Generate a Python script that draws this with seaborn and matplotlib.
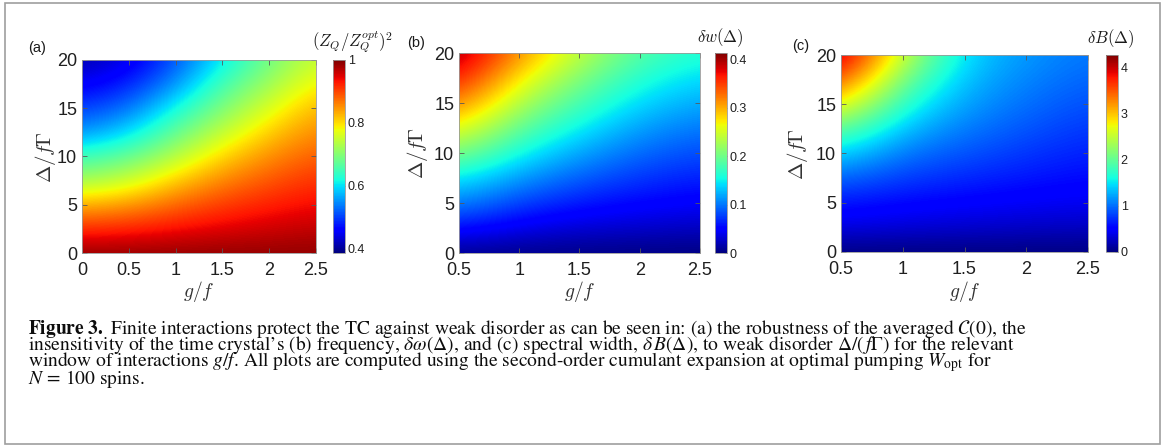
import numpy as np
import matplotlib
matplotlib.use("Agg")
import matplotlib.pyplot as plt
from matplotlib.patches import Rectangle
import seaborn as sns

# ---------------- data ----------------
DELTA = [0, 2.5, 5, 7.5, 10, 12.5, 15, 17.5, 20]
Y_TICKS = [0, 5, 10, 15, 20]
Y_TICKLABELS = ["0", "5", "10", "15", "20"]

# panel (a): (Z_Q / Z_Q^opt)^2, rows = Delta, columns = g/f
A_G = [0, 0.5, 1, 1.5, 2, 2.5]
A_VALUES = [
    [0.990, 0.990, 0.990, 0.990, 0.990, 0.990],
    [0.915, 0.922, 0.936, 0.948, 0.957, 0.965],
    [0.830, 0.845, 0.878, 0.906, 0.925, 0.939],
    [0.720, 0.750, 0.812, 0.858, 0.889, 0.914],
    [0.645, 0.672, 0.734, 0.806, 0.852, 0.885],
    [0.550, 0.593, 0.675, 0.744, 0.811, 0.856],
    [0.500, 0.527, 0.615, 0.695, 0.763, 0.828],
    [0.450, 0.482, 0.548, 0.653, 0.717, 0.789],
    [0.410, 0.439, 0.512, 0.603, 0.684, 0.752],
]
A_XTICKS = [0, 0.5, 1, 1.5, 2, 2.5]
A_XTICKLABELS = ["0", "0.5", "1", "1.5", "2", "2.5"]
A_CBAR_TICKS = [0.4, 0.6, 0.8, 1.0]
A_CBAR_LABELS = ["0.4", "0.6", "0.8", "1"]
A_RANGE = [0.387, 1.0]

# panel (b): delta w(Delta)
B_G = [0.5, 1, 1.5, 2, 2.5]
B_VALUES = [
    [0.005, 0.003, 0.002, 0.001, 0.000],
    [0.058, 0.040, 0.031, 0.028, 0.024],
    [0.107, 0.078, 0.061, 0.052, 0.046],
    [0.150, 0.114, 0.090, 0.073, 0.064],
    [0.210, 0.153, 0.119, 0.094, 0.082],
    [0.268, 0.192, 0.149, 0.116, 0.100],
    [0.325, 0.232, 0.179, 0.139, 0.120],
    [0.372, 0.272, 0.209, 0.162, 0.140],
    [0.405, 0.312, 0.240, 0.185, 0.162],
]
B_XTICKS = [0.5, 1, 1.5, 2, 2.5]
B_XTICKLABELS = ["0.5", "1", "1.5", "2", "2.5"]
B_CBAR_TICKS = [0, 0.1, 0.2, 0.3, 0.4]
B_CBAR_LABELS = ["0", "0.1", "0.2", "0.3", "0.4"]
B_RANGE = [0.0, 0.413]

# panel (c): delta B(Delta)
C_G = [0.5, 1, 1.5, 2, 2.5]
C_VALUES = [
    [0.00, 0.00, 0.00, 0.00, 0.00],
    [0.38, 0.33, 0.30, 0.27, 0.25],
    [0.62, 0.55, 0.50, 0.46, 0.43],
    [0.97, 0.78, 0.70, 0.62, 0.56],
    [1.45, 1.03, 0.88, 0.76, 0.66],
    [2.05, 1.33, 1.05, 0.89, 0.76],
    [2.85, 1.67, 1.20, 1.00, 0.86],
    [3.60, 2.05, 1.32, 1.09, 0.95],
    [4.20, 2.50, 1.42, 1.17, 1.03],
]
C_XTICKS = [0.5, 1, 1.5, 2, 2.5]
C_XTICKLABELS = ["0.5", "1", "1.5", "2", "2.5"]
C_CBAR_TICKS = [0, 1, 2, 3, 4]
C_CBAR_LABELS = ["0", "1", "2", "3", "4"]
C_RANGE = [0.0, 4.28]

PANEL_LETTERS = ["(a)", "(b)", "(c)"]
CBAR_TITLES = [r"$(Z_Q/Z_Q^{opt})^2$", r"$\delta w(\Delta)$", r"$\delta B(\Delta)$"]
X_LABEL = r"$g/f$"
Y_LABEL = r"$\Delta/f\Gamma$"

CAPTION_LINES = [
    "$\\mathbf{Figure\\ 3.}$ Finite interactions protect the TC against weak disorder as can be seen in: (a) the robustness of the averaged $\\mathcal{C}(0)$, the",
    "insensitivity of the time crystal\u2019s (b) frequency, $\\delta\\omega(\\Delta)$, and (c) spectral width, $\\delta\\,B(\\Delta)$, to weak disorder $\\Delta/(\\,f\\Gamma)$ for the relevant",
    "window of interactions $g/f$. All plots are computed using the second-order cumulant expansion at optimal pumping $W_{\\mathrm{opt}}$ for",
    "$N\\,=\\,100$ spins.",
]

# ---------------- style ----------------
sns.set_theme(style="white")
plt.rcParams["font.family"] = ["Liberation Sans", "DejaVu Sans"]
plt.rcParams["mathtext.fontset"] = "cm"

W, H = 1165, 448
fig = plt.figure(figsize=(W / 100, H / 100), dpi=100)
fig.patch.set_facecolor("white")


def rect(l, t, r, b):
    return [l / W, 1 - b / H, (r - l) / W, (b - t) / H]


# layout in pixels: axes (l, t, r, b), colorbar (l, t, r, b), label positions
layout = [
    dict(ax=(82, 60, 316, 253), cb=(333, 60, 345, 253), ylab_x=45, letter=(37, 48), title=(393, 42)),
    dict(ax=(459, 53, 700, 253), cb=(715, 53, 727, 253), ylab_x=418, letter=(416, 43), title=(744, 38)),
    dict(ax=(841, 55, 1088, 252), cb=(1106, 55, 1118, 252), ylab_x=798, letter=(801, 46), title=(1134, 39)),
]
data = [
    (A_G, A_VALUES, A_XTICKS, A_XTICKLABELS, A_CBAR_TICKS, A_CBAR_LABELS, A_RANGE),
    (B_G, B_VALUES, B_XTICKS, B_XTICKLABELS, B_CBAR_TICKS, B_CBAR_LABELS, B_RANGE),
    (C_G, C_VALUES, C_XTICKS, C_XTICKLABELS, C_CBAR_TICKS, C_CBAR_LABELS, C_RANGE),
]

for i, (lay, (g, z, xt, xtl, ct, ctl, rng)) in enumerate(zip(layout, data)):
    l, t, r, b = lay["ax"]
    ax = fig.add_axes(rect(l, t, r, b))
    g_arr = np.array(g, float)
    d_arr = np.array(DELTA, float)
    dg = g_arr[1] - g_arr[0]
    dd = d_arr[1] - d_arr[0]
    img = ax.imshow(np.array(z, float), origin="lower", aspect="auto",
                    extent=[g_arr[0] - dg / 2, g_arr[-1] + dg / 2,
                            d_arr[0] - dd / 2, d_arr[-1] + dd / 2],
                    cmap="jet", vmin=rng[0], vmax=rng[1],
                    interpolation="bicubic", interpolation_stage="data")
    ax.set_xlim(g[0], g[-1])
    ax.set_ylim(DELTA[0], DELTA[-1])
    ax.set_xticks(xt, xtl)
    ax.set_yticks(Y_TICKS, Y_TICKLABELS)
    ax.tick_params(direction="in", top=True, right=True, bottom=True, left=True,
                   length=3.5, width=0.6, color="0.35", labelsize=13,
                   labelcolor="0.12")
    ax.tick_params(axis="x", pad=6.8)
    ax.tick_params(axis="y", pad=3.5)
    for s in ax.spines.values():
        s.set_color("0.6")
        s.set_linewidth(0.6)
    ax.set_xlabel(X_LABEL, fontsize=14, color="0.2")
    ax.xaxis.set_label_coords(0.5, (b - 291) / (b - t))
    ax.xaxis.label.set_va("center")
    ax.set_ylabel(Y_LABEL, fontsize=15, color="0.2")
    ax.yaxis.set_label_coords((lay["ylab_x"] - l) / (r - l), 0.5)
    ax.yaxis.label.set_va("center")

    cl, ctp, cr, cbm = lay["cb"]
    cax = fig.add_axes(rect(cl, ctp, cr, cbm))
    cb = fig.colorbar(img, cax=cax, ticks=ct)
    cb.set_ticklabels(ctl)
    cb.outline.set_edgecolor("0.6")
    cb.outline.set_linewidth(0.6)
    cax.tick_params(direction="in", length=2.5, width=0.5, labelsize=9,
                    pad=2, color="0.3", labelcolor="0.12", right=True)

    lx, ly = lay["letter"]
    fig.text(lx / W, 1 - ly / H, PANEL_LETTERS[i], ha="center", va="center",
             fontsize=10.5, color="0.1")
    tx, ty = lay["title"]
    fig.text(tx / W, 1 - ty / H, CBAR_TITLES[i], ha="right", va="center",
             fontsize=12, color="0.1")

# ---------------- caption (one multi-line text) ----------------
renderer = fig.canvas.get_renderer()
cap_kw = dict(family="STIXGeneral", math_fontfamily="stix", color="0.05")


def measure(s, size):
    """width, ascent above baseline, descent below baseline (pixels)"""
    tt = fig.text(0.5, 0.5, s, fontsize=size, va="baseline", ha="left", **cap_kw)
    bb = tt.get_window_extent(renderer)
    y0 = fig.transFigure.transform((0.5, 0.5))[1]
    tt.remove()
    return bb.width, bb.y1 - y0, y0 - bb.y0


w10 = measure(CAPTION_LINES[1], 10)[0]
cap_size = 10 * 988 / w10

x0 = 28
first_baseline = 334.0
pitch = 16.6
mets = [measure(s, cap_size) for s in CAPTION_LINES]
lp_asc = measure("lp", cap_size)[1]
desc_sum = sum(m[2] for m in mets[:-1])
asc_sum = sum(max(lp_asc, m[1]) for m in mets[1:])
linesp = (3 * pitch - desc_sum) / asc_sum

top_px = first_baseline - mets[0][1]
fig.text(x0 / W, 1 - top_px / H, "\n".join(CAPTION_LINES), fontsize=cap_size,
         ha="left", va="top", multialignment="left", linespacing=linesp,
         **cap_kw)

# outer frame
fig.add_artist(Rectangle((5 / W, 1 - 444 / H), 1155 / W, 441 / H,
                         transform=fig.transFigure, fill=False,
                         edgecolor="0.62", linewidth=1.2))

fig.savefig("out.png", dpi=100)
